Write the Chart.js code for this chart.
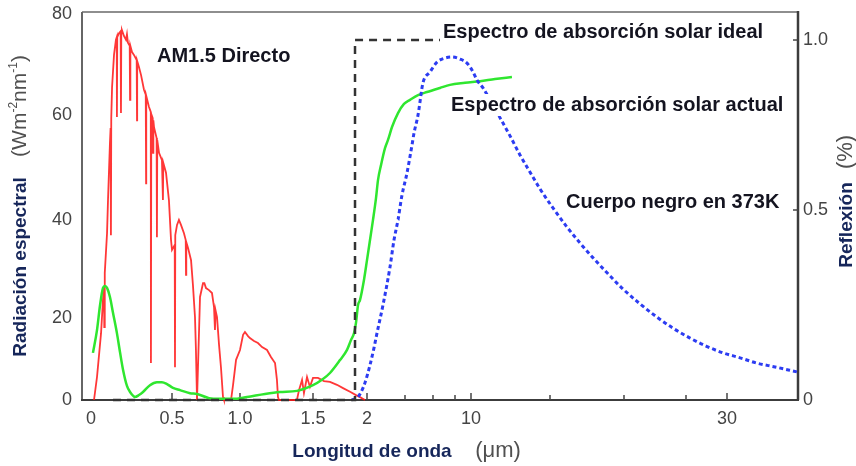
<!DOCTYPE html>
<html><head><meta charset="utf-8">
<script src="https://cdn.jsdelivr.net/npm/chart.js@4.4.1/dist/chart.umd.min.js"></script>
<style>html,body{margin:0;padding:0;background:#fff}</style>
</head><body>
<canvas id="c" width="856" height="466"></canvas>
<script>
// ---------------- DATA ----------------
const am15Wavelength = [0.0185,0.037,0.062,0.074,0.080,0.082,0.084,0.086,0.099,0.105,0.117,0.121,0.123,0.125,0.130,0.142,0.154,0.159,0.160,0.162,0.173,0.183,0.185,0.187,0.191,0.204,0.216,0.222,0.228,0.239,0.241,0.243,0.253,0.265,0.282,0.284,0.285,0.296,0.309,0.327,0.338,0.340,0.341,0.358,0.369,0.370,0.372,0.381,0.383,0.385,0.389,0.405,0.407,0.409,0.420,0.438,0.444,0.446,0.463,0.481,0.494,0.500,0.520,0.522,0.524,0.537,0.551,0.566,0.588,0.601,0.603,0.605,0.618,0.640,0.654,0.669,0.676,0.684,0.699,0.706,0.728,0.738,0.750,0.772,0.794,0.809,0.816,0.820,0.831,0.846,0.860,0.875,0.882,0.934,0.949,0.971,1.000,1.021,1.034,1.055,1.068,1.096,1.123,1.151,1.185,1.212,1.240,1.253,1.260,1.267,1.390,1.404,1.425,1.438,1.459,1.479,1.500,1.546,1.602,1.657,1.722,1.778,1.843,1.898,1.935,1.981];
const am15Irradiance = [0,5.6,16.3,23.7,26.3,17.8,26.7,29.2,37.3,43.8,54.7,57.5,36.9,59.4,65.5,71.9,74.9,75.4,59.6,75.4,76.2,76.6,60.4,76.6,76.8,75.6,74.9,76.0,74.3,73.7,63.0,73.7,72.5,71.9,70.9,59.0,70.7,69.5,67.9,65.0,64.0,47.0,63.8,61.6,60.6,9.0,60.2,59.4,52.8,59.0,57.7,55.6,36.5,55.2,52.8,51.4,43.8,50.9,49.0,43.8,35.9,33.9,34.9,8.0,36.9,39.0,40.0,39.0,37.3,35.9,28.8,35.5,34.3,31.8,26.7,20.2,12.2,0,17.1,24.3,27.1,27.1,26.1,25.7,25.1,22.2,17.1,21.6,20.2,13.4,8.0,0.7,0,0,3.7,9.8,12.2,15.9,16.6,15.6,15.1,14.4,13.9,12.9,12.2,10.5,9.0,4.9,0.7,0,0,2.4,4.9,1.7,5.6,3.2,5.4,5.4,4.6,4.4,3.7,2.9,2.0,1.2,0.7,0];

const actualWavelength = [0.012,0.037,0.056,0.074,0.086,0.099,0.117,0.136,0.160,0.179,0.198,0.222,0.241,0.272,0.296,0.321,0.364,0.407,0.438,0.469,0.507,0.559,0.632,0.684,0.772,0.846,0.949,1.048,1.171,1.274,1.390,1.5,1.583,1.657,1.750,1.815,1.852,1.880,1.898,1.917,1.935,1.972,2.0,2.158,2.316,2.474,2.579,2.737,2.947,3.105,3.316,3.632,3.947,4.357,4.929,5.571,6.636,7.545,9.25,10.57,11.52,12.59];
const actualReflection = [0.124,0.184,0.25,0.295,0.300,0.295,0.271,0.229,0.176,0.126,0.079,0.037,0.021,0.008,0.013,0.021,0.039,0.047,0.047,0.042,0.032,0.026,0.018,0.016,0.005,0.003,0.003,0.008,0.016,0.021,0.024,0.039,0.053,0.071,0.105,0.132,0.158,0.176,0.203,0.25,0.263,0.316,0.368,0.421,0.474,0.535,0.588,0.632,0.682,0.706,0.744,0.785,0.812,0.824,0.838,0.847,0.859,0.868,0.874,0.879,0.885,0.891];

const blackbodyWavelength = [1.861,1.917,1.954,1.981,2.158,2.368,2.526,2.842,3.211,3.421,3.632,3.842,4.143,4.5,4.643,4.929,5.286,5.786,6.364,7.091,7.727,8.625,9.5,10.13,10.38,10.76,11.20,11.84,12.47,13.10,13.73,14.37,15.20,16.15,17.03,17.91,18.92,19.93,21.29,22.66,23.95,25.49,27.44,29.51,30.92,32.11,33.38,34.93];
const blackbodyValue = [0,0.008,0.026,0.045,0.092,0.137,0.176,0.25,0.35,0.421,0.474,0.544,0.609,0.691,0.726,0.779,0.874,0.906,0.935,0.947,0.95,0.944,0.932,0.906,0.882,0.859,0.824,0.771,0.718,0.662,0.612,0.562,0.506,0.455,0.413,0.374,0.332,0.292,0.253,0.218,0.189,0.163,0.142,0.124,0.111,0.097,0.087,0.074];

const idealWavelength = [0.136,1.889,1.889,6.64];
const idealValue = [0,0,1,1];

const xTickValues = [0,0.5,1,1.5,2,10,30];
const xTickLabels = ['0','0.5','1.0','1.5','2','10','30'];
const xMinorTicks = [4,6,8,15,20,25];
const leftTickValues = [0,20,40,60,80];
const leftTickLabels = ['0','20','40','60','80'];
const rightTickValues = [0,0.5,1];
const rightTickLabels = ['0','0.5','1.0'];

// -------------- piecewise axis (as in the source figure) --------------
class PiecewiseScale extends Chart.LinearScale {
  _frac(v){
    const kv=this.options.knotValues, kf=this.options.knotFracs;
    let i=1; while(i<kv.length-1 && v>kv[i]) i++;
    return kf[i-1]+(v-kv[i-1])*(kf[i]-kf[i-1])/(kv[i]-kv[i-1]);
  }
  _inv(f){
    const kv=this.options.knotValues, kf=this.options.knotFracs;
    let i=1; while(i<kf.length-1 && f>kf[i]) i++;
    return kv[i-1]+(f-kf[i-1])*(kv[i]-kv[i-1])/(kf[i]-kf[i-1]);
  }
  getPixelForValue(v){ return this.getPixelForDecimal(this._frac(v)); }
  getValueForPixel(p){ return this._inv(this.getDecimalForPixel(p)); }
  buildTicks(){ return this.options.tickValues.map(v=>({value:v})); }
}
PiecewiseScale.id='piecewise';
PiecewiseScale.defaults=Chart.LinearScale.defaults;
Chart.register(PiecewiseScale);

const FONT="'Liberation Sans', Arial, Helvetica, sans-serif";
const pts=(xs,ys)=>xs.map((x,i)=>({x:x,y:ys[i]}));

const notes=[
  {text:'AM1.5 Directo', x:157, y:62, bg:false},
  {text:'Espectro de absorción solar ideal', x:443, y:37.5, bg:true},
  {text:'Espectro de absorción solar actual', x:451, y:111, bg:true},
  {text:'Cuerpo negro en 373K', x:566, y:208, bg:false}
];
const NAVY='#16265a', GREY='#505050';

const decor={
  id:'decor',
  beforeDatasetsDraw(chart){
    const {ctx,chartArea:a}=chart; const sx=chart.scales.x, sy2=chart.scales.y2;
    ctx.save();
    ctx.lineWidth=2;
    ctx.strokeStyle='#8e8e8e';
    ctx.beginPath();ctx.moveTo(a.left,a.top);ctx.lineTo(a.right,a.top);ctx.stroke();
    ctx.strokeStyle='#666';
    ctx.beginPath();ctx.moveTo(a.left,a.top);ctx.lineTo(a.left,a.bottom);ctx.stroke();
    ctx.strokeStyle='#3c3c3c';
    ctx.beginPath();ctx.moveTo(a.left-1,a.bottom);ctx.lineTo(a.right+1,a.bottom);ctx.stroke();
    ctx.lineWidth=2.5;
    ctx.beginPath();ctx.moveTo(a.right,a.top-1);ctx.lineTo(a.right,a.bottom);ctx.stroke();
    ctx.lineWidth=1.5; ctx.strokeStyle='#444';
    xTickValues.slice(1).forEach(v=>{const p=sx.getPixelForValue(v);ctx.beginPath();ctx.moveTo(p,a.bottom);ctx.lineTo(p,a.bottom-7);ctx.stroke();});
    xMinorTicks.forEach(v=>{const p=sx.getPixelForValue(v);ctx.beginPath();ctx.moveTo(p,a.bottom);ctx.lineTo(p,a.bottom-5);ctx.stroke();});
    rightTickValues.slice(1).forEach(v=>{const p=sy2.getPixelForValue(v);ctx.beginPath();ctx.moveTo(a.right,p);ctx.lineTo(a.right-5,p);ctx.stroke();});
    ctx.restore();
  },
  afterDatasetsDraw(chart){
    const ctx=chart.ctx; ctx.save();
    ctx.font='bold 20px '+FONT; ctx.textBaseline='alphabetic'; ctx.textAlign='left';
    notes.forEach(n=>{
      const w=ctx.measureText(n.text).width;
      if(n.bg){ctx.fillStyle='#fff';ctx.fillRect(n.x-3,n.y-17,w+6,22);}
      ctx.fillStyle='#141420'; ctx.fillText(n.text,n.x,n.y);
    });
    ctx.restore();
  },
  afterDraw(chart){
    const ctx=chart.ctx; ctx.save();
    ctx.textBaseline='alphabetic'; ctx.textAlign='center';
    ctx.font='bold 19px '+FONT; ctx.fillStyle=NAVY; ctx.fillText('Longitud de onda',372,457);
    ctx.font='22px '+FONT; ctx.fillStyle=GREY; ctx.fillText('(μm)',498,457);
    ctx.save(); ctx.translate(26,267); ctx.rotate(-Math.PI/2);
    ctx.font='bold 19px '+FONT; ctx.fillStyle=NAVY; ctx.fillText('Radiación espectral',0,0);
    ctx.restore();
    const parts=[{t:'(Wm',s:21,r:0},{t:'-2',s:12,r:-9},{t:'nm',s:21,r:0},{t:'-1',s:12,r:-9},{t:')',s:21,r:0}];
    ctx.save(); ctx.translate(26,106); ctx.rotate(-Math.PI/2); ctx.textAlign='left'; ctx.fillStyle=GREY;
    let tot=0; parts.forEach(p=>{ctx.font=p.s+'px '+FONT; p.w=ctx.measureText(p.t).width; tot+=p.w;});
    let cx=-tot/2; parts.forEach(p=>{ctx.font=p.s+'px '+FONT; ctx.fillText(p.t,cx,p.r); cx+=p.w;});
    ctx.restore();
    ctx.save(); ctx.translate(852,225); ctx.rotate(-Math.PI/2);
    ctx.font='bold 19px '+FONT; ctx.fillStyle=NAVY; ctx.fillText('Reflexión',0,0);
    ctx.restore();
    ctx.save(); ctx.translate(852,152); ctx.rotate(-Math.PI/2);
    ctx.font='22px '+FONT; ctx.fillStyle=GREY; ctx.fillText('(%)',0,0);
    ctx.restore();
    ctx.restore();
  }
};

const noPadV=s=>{s.paddingTop=0;s.paddingBottom=0;};
new Chart(document.getElementById('c'),{
  type:'line',
  data:{datasets:[
    {label:'Espectro de absorción solar ideal',data:pts(idealWavelength,idealValue),yAxisID:'y2',borderColor:'#333',borderWidth:2.5,borderDash:[8,6],pointRadius:0,fill:false,clip:false},
    {label:'Cuerpo negro en 373K',data:pts(blackbodyWavelength,blackbodyValue),yAxisID:'y2',borderColor:'#2c3cf2',borderWidth:3,borderDash:[4,3],pointRadius:0,fill:false,clip:false,cubicInterpolationMode:'monotone'},
    {label:'Espectro de absorción solar actual',data:pts(actualWavelength,actualReflection),yAxisID:'y2',borderColor:'#2fe62f',borderWidth:2.5,pointRadius:0,fill:false,clip:false,cubicInterpolationMode:'monotone'},
    {label:'AM1.5 Directo',data:pts(am15Wavelength,am15Irradiance),yAxisID:'y',borderColor:'rgba(255,20,20,0.85)',borderWidth:1.8,pointRadius:0,fill:false,clip:false}
  ]},
  options:{
    responsive:false, animation:false, devicePixelRatio:1,
    layout:{padding:{top:12,left:0,right:0,bottom:0}},
    plugins:{legend:{display:false},tooltip:{enabled:false}},
    elements:{line:{tension:0}},
    scales:{
      x:{type:'piecewise',position:'bottom',min:-0.055,max:35,
        knotValues:[-0.055,0,0.5,1,1.5,2,4,6,8,10,15,20,25,30,35],
        knotFracs:[0,0.01257,0.1257,0.22067,0.32263,0.39804,0.45112,0.49022,0.52095,0.5433,0.65363,0.75698,0.84358,0.90084,1],
        tickValues:xTickValues,
        grid:{display:false,drawTicks:false},border:{display:false},
        ticks:{autoSkip:false,maxRotation:0,padding:8,color:'#444',font:{family:FONT,size:18},callback:(v,i)=>xTickLabels[i]},
        afterFit:s=>{s.height=66;s.paddingLeft=0;s.paddingRight=0;}},
      y:{type:'piecewise',position:'left',min:0,max:80.4,
        knotValues:[0,20,40,60,80,80.4],
        knotFracs:[0,0.2113,0.4639,0.7345,0.9948,1],
        tickValues:leftTickValues,
        grid:{display:false,drawTicks:false},border:{display:false},
        ticks:{autoSkip:false,padding:10,color:'#444',font:{family:FONT,size:18},callback:(v,i)=>leftTickLabels[i]},
        afterFit:s=>{s.width=82;noPadV(s);}},
      y2:{type:'piecewise',position:'right',min:0,max:1.082,
        knotValues:[0,0.5,1,1.082],
        knotFracs:[0,0.4897,0.9278,1],
        tickValues:rightTickValues,
        grid:{display:false,drawTicks:false},border:{display:false},
        ticks:{autoSkip:false,padding:5,color:'#444',font:{family:FONT,size:18},callback:(v,i)=>rightTickLabels[i]},
        afterFit:s=>{s.width=58;noPadV(s);}}
    }
  },
  plugins:[decor]
});
</script>
</body></html>
